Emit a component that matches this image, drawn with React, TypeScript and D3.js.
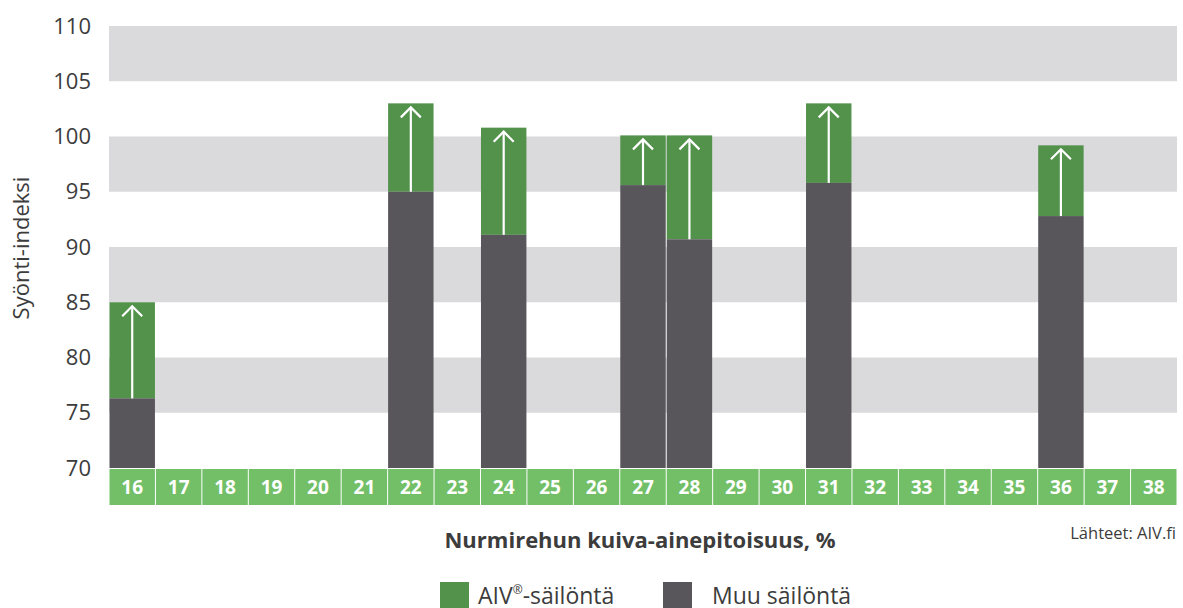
import React from "react";
import * as d3 from "d3";

// kuiva-ainepitoisuus, %
const categories = ["16","17","18","19","20","21","22","23","24","25","26","27","28","29","30","31","32","33","34","35","36","37","38"];
// Muu säilöntä (null = no bar)
const muuValues: (number | null)[] = [76.3,null,null,null,null,null,95.0,null,91.1,null,null,95.6,90.7,null,null,95.8,null,null,null,null,92.8,null,null];
// AIV-säilöntä
const aivValues: (number | null)[] = [85.0,null,null,null,null,null,103.0,null,100.8,null,null,100.1,100.1,null,null,103.0,null,null,null,null,99.2,null,null];
const yTicks = [70, 75, 80, 85, 90, 95, 100, 105, 110];

const GREEN = "#52924b";
const DARK = "#58565b";
const LABEL_GREEN = "#72bf67";
const BAND = "#dadadc";
const TEXT = "#3c3c3c";
const FONT = "'Open Sans', 'Noto Sans', sans-serif";

const W = 1183;
const H = 608;
const left = 109;
const right = 1177;
const top = 26;
const bottom = 468;

const App = () => {
  const x = d3.scaleBand<string>().domain(categories).range([left, right]).paddingInner(0);
  const y = d3.scaleLinear().domain([70, 110]).range([bottom, top]);
  const bw = x.bandwidth();
  const gap = 1;

  const bands = d3.range(75, 110, 10);

  return (
    <svg width={W} height={H} style={{ position: "absolute", left: 0, top: 0, fontFamily: FONT }}>
      <rect x={0} y={0} width={W} height={H} fill="#fff" />
      {bands.map((b) => (
        <rect key={b} x={left} y={y(b + 5)} width={right - left} height={y(b) - y(b + 5)} fill={BAND} />
      ))}
      {yTicks.map((t) => (
        <text key={t} x={91} y={y(t)} dy="0.35em" textAnchor="end" fontSize={22} fill={TEXT}>
          {t}
        </text>
      ))}
      <text
        transform={`translate(29,248) rotate(-90)`}
        textAnchor="middle"
        fontSize={22}
        fill={TEXT}
      >
        Syönti-indeksi
      </text>

      {categories.map((c, i) => {
        const m = muuValues[i];
        const a = aivValues[i];
        if (m == null || a == null) return null;
        const x0 = x(c)! + gap / 2;
        const w = bw - gap;
        const cx = x0 + w / 2;
        const yTop = y(a);
        const yMid = y(m);
        return (
          <g key={c}>
            <rect x={x0} y={yTop} width={w} height={yMid - yTop} fill={GREEN} />
            <rect x={x0} y={yMid} width={w} height={bottom - yMid} fill={DARK} />
            <line x1={cx} x2={cx} y1={yMid} y2={yTop + 4} stroke="#fff" strokeWidth={2.2} />
            <path
              d={`M${cx - 10},${yTop + 14} L${cx},${yTop + 4} L${cx + 10},${yTop + 14}`}
              fill="none"
              stroke="#fff"
              strokeWidth={2.2}
            />
          </g>
        );
      })}

      {categories.map((c) => (
        <g key={"l" + c}>
          <rect x={x(c)! + 0.5} y={bottom + 1} width={bw - 1} height={36} fill={LABEL_GREEN} />
          <text
            x={x(c)! + bw / 2}
            y={bottom + 19}
            dy="0.36em"
            textAnchor="middle"
            fontSize={19}
            fontWeight={700}
            fill="#fff"
          >
            {c}
          </text>
        </g>
      ))}

      <text x={640} y={548} textAnchor="middle" fontSize={22} fontWeight={700} fill={TEXT}>
        Nurmirehun kuiva-ainepitoisuus, %
      </text>
      <text x={1176} y={539} textAnchor="end" fontSize={16.5} fill={TEXT}>
        Lähteet: AIV.fi
      </text>

      <rect x={440} y={582} width={29} height={26} fill={GREEN} />
      <text x={478} y={604} fontSize={23} fill={TEXT}>
        AIV<tspan fontSize={12} dy={-10}>®</tspan>
        <tspan dy={10}>-säilöntä</tspan>
      </text>
      <rect x={663} y={582} width={29} height={26} fill={DARK} />
      <text x={712} y={604} fontSize={23} fill={TEXT}>
        Muu säilöntä
      </text>
    </svg>
  );
};

export default App;
